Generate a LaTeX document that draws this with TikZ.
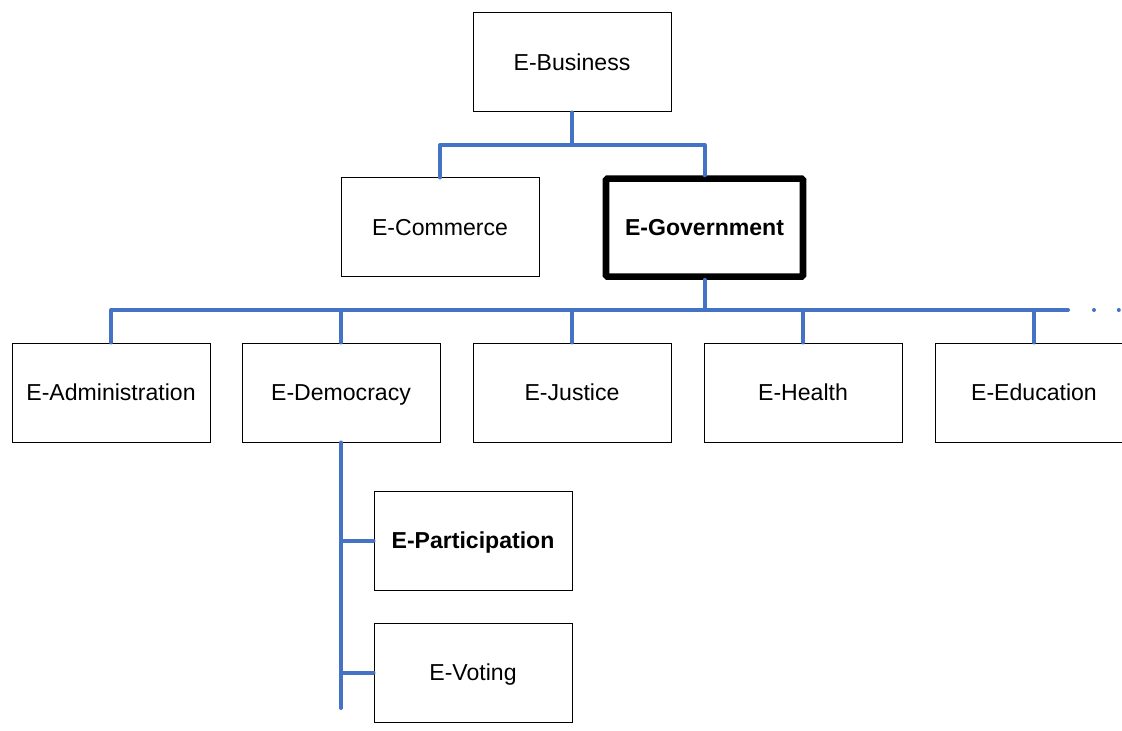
\documentclass[tikz,border=0pt]{standalone}
\usepackage{fontspec}
\setmainfont{Liberation Sans}
\usepackage{tikz}

\definecolor{linkblue}{HTML}{4472C4}
\tikzset{
  box/.style={draw=black, line width=0.75pt, rectangle, minimum width=148.5pt, minimum height=74.25pt, inner sep=0pt, text height=12.4pt, text depth=0pt, font=\fontsize{17.3}{20}\selectfont},
  mainbox/.style={box, line width=4.9pt, rounded corners=1pt, font=\fontsize{17.3}{20}\selectfont\bfseries},
  link/.style={draw=linkblue, line width=3pt, line cap=round, line join=round}
}

\begin{document}
\begin{tikzpicture}[x=0.75pt,y=0.75pt,yscale=-1,xscale=1]
\useasboundingbox (0,0) rectangle (1122,731);
\clip (0,0) rectangle (1122,731);

% Text Node
\node[box] (bus) at (572,62.5) {E-Business};
% Text Node
\node[box] (com) at (440,227.5) {E-Commerce};
% Text Node
\node[mainbox,minimum width=147.75pt,minimum height=73.5pt] (gov) at (704.5,227.6) {E-Government};
% Text Node
\node[box] (adm) at (111,392.5) {E-Administration};
% Text Node
\node[box] (dem) at (341,392.5) {E-Democracy};
% Text Node
\node[box] (jus) at (572,392.5) {E-Justice};
% Text Node
\node[box] (hea) at (803,392.5) {E-Health};
% Text Node
\node[box] (edu) at (1034,392.5) {E-Education};
% Text Node
\node[box] (par) at (473,540.5) {\bfseries E-Participation};
% Text Node
\node[box] (vot) at (473,672.5) {E-Voting};

% Junctions
\coordinate (j1) at (572,145);
\coordinate (j2) at (704.5,310);
\coordinate (rowend) at (1068,310);
\coordinate (vend) at (341,708);

% Connection
\draw[link] (bus.south) -- (j1);
% Connection
\draw[link] (com.north) |- (j1) -| (gov.north);
% Connection
\draw[link] (gov.south) -- (j2);
% Connection
\draw[link] (adm.north) |- (rowend);
% Connection
\foreach \n in {dem,jus,hea,edu}
  \draw[link] (\n.north) -- (\n.north |- rowend);
% Connection
\draw[link, line width=3pt, dash pattern=on 0pt off 18.6pt] ([xshift=19.5pt]rowend) -- ([xshift=39pt]rowend);
% Connection
\draw[link] (dem.south) -- (vend);
% Connection
\draw[link] (par.west) -- (par.west -| dem.south);
% Connection
\draw[link] (vot.west) -- (vot.west -| dem.south);

\end{tikzpicture}
\end{document}
